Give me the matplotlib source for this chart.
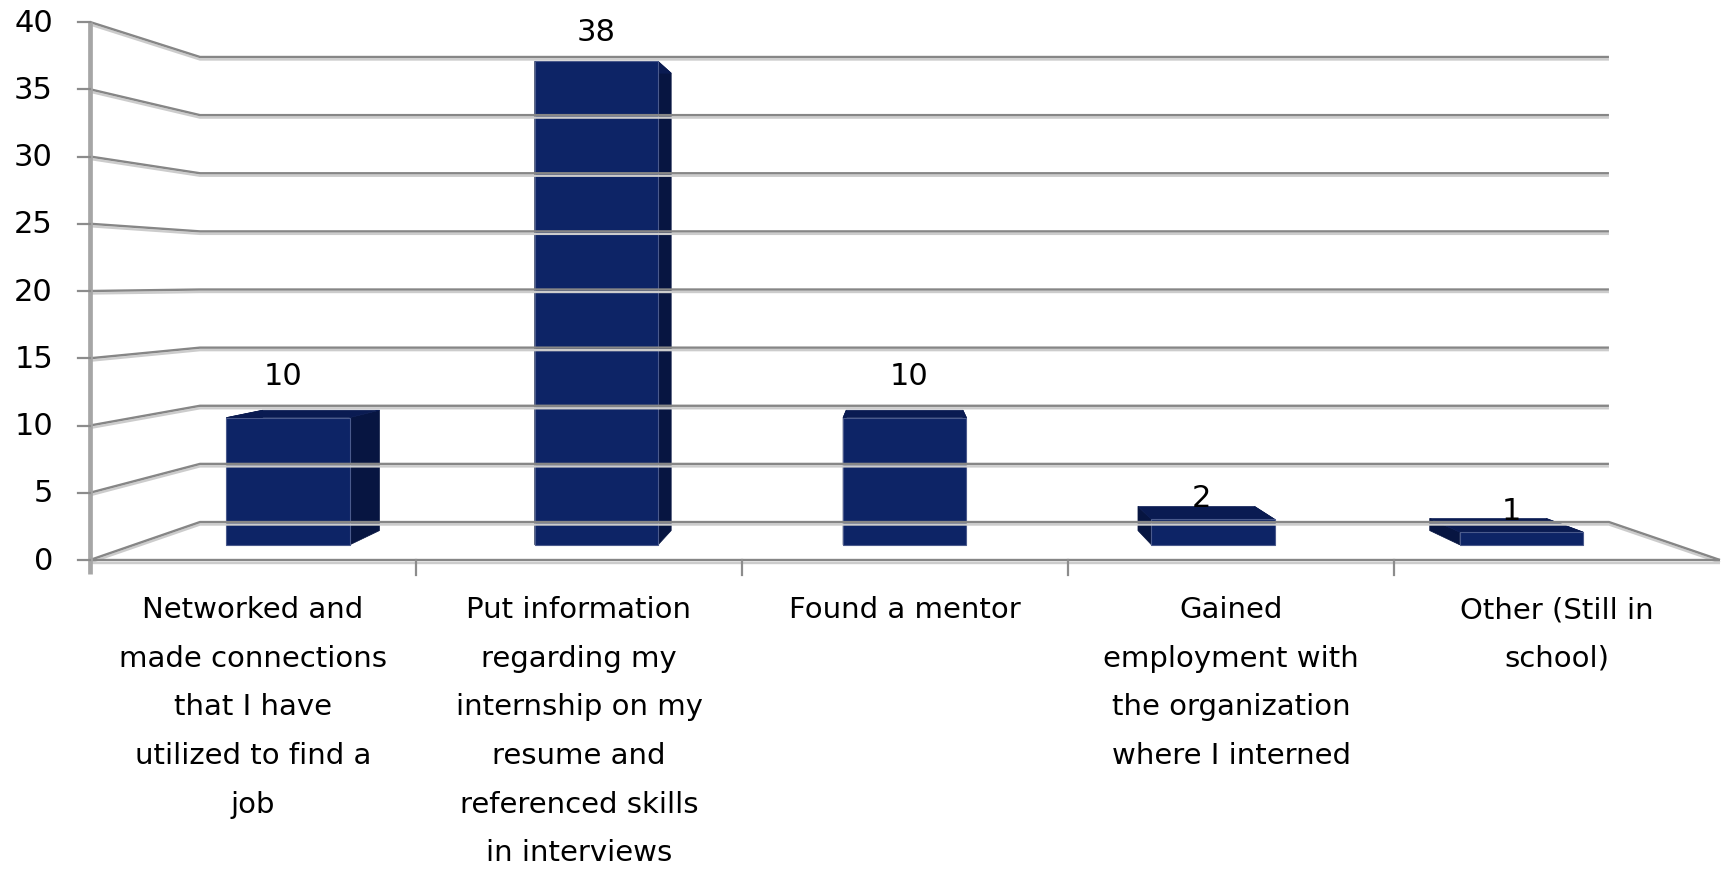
import numpy as np
import matplotlib.pyplot as plt
from matplotlib.patches import Polygon

categories = [
    "Networked and\nmade connections\nthat I have\nutilized to find a\njob",
    "Put information\nregarding my\ninternship on my\nresume and\nreferenced skills\nin interviews",
    "Found a mentor",
    "Gained\nemployment with\nthe organization\nwhere I interned",
    "Other (Still in\nschool)",
]
counts = [10, 38, 10, 2, 1]
y_ticks = [0, 5, 10, 15, 20, 25, 30, 35, 40]

plt.rcParams['font.family'] = ['DejaVu Sans']

W, H = 1723, 870
fig = plt.figure(figsize=(W / 100, H / 100), dpi=100)

# front plane of the fake 3d box (value axis lives here)
front = fig.add_axes([90 / W, (H - 561) / H, 1630 / W, (561 - 23) / H])
front.set_xlim(-0.5, len(counts) - 0.5)
front.set_ylim(0, 40)
front.axis('off')

# pixel canvas for the projected shapes
canvas = fig.add_axes([0, 0, 1, 1])
canvas.set_xlim(0, W)
canvas.set_ylim(0, H)
canvas.axis('off')

# perspective: everything shrinks towards a vanishing point with depth
vp = np.array([901.0, H - 281.0])
shrink = 0.1356


def proj(x, v, d):
    p = front.transData.transform((x, v))
    s = 1 - shrink * d
    return vp + s * (p - vp)


def gridline(pts):
    pts = np.array(pts)
    canvas.plot(pts[:, 0], pts[:, 1] - 2.5, color='#cccccc', lw=1.7, solid_capstyle='butt')
    canvas.plot(pts[:, 0], pts[:, 1], color='#868686', lw=1.7, solid_capstyle='butt')


left, right = -0.5, len(counts) - 0.5

# walls and floor
for v in y_ticks:
    pts = [proj(left, v, 0), proj(left, v, 1), proj(right, v, 1)]
    if v == 0:
        pts.append(proj(right, 0, 0))
    gridline(pts)

# category axis
gridline([proj(left, 0, 0), proj(right, 0, 0)])
for i in range(1, len(counts)):
    p = proj(left + i, 0, 0)
    canvas.plot([p[0], p[0]], [p[1], p[1] - 15], color='#8c8c8c', lw=1.6)

# value axis
a0, a1 = proj(left, 0, 0), proj(left, 40, 0)
canvas.plot([a0[0], a1[0]], [a0[1] - 14, a1[1]], color='#a6a6a6', lw=3.4, solid_capstyle='butt')
for v in y_ticks:
    p = proj(left, v, 0)
    canvas.plot([p[0] - 12, p[0]], [p[1], p[1]], color='#8c8c8c', lw=1.6)
    canvas.text(p[0] - 37, p[1], str(v), ha='right', va='center', fontsize=22, color='#000000')

# bars
bar_w = 0.40
d_front, d_back = 0.40, 0.775
front_col, side_col, top_col = '#0d2466', '#071541', '#0a1b52'
label_nudge = [(-5, 12), (0, 0), (4, 12), (-12, -8), (-10, -8)]

for i, v in enumerate(counts):
    x0, x1 = i - bar_w / 2, i + bar_w / 2
    faces = [
        ([proj(x1, 0, d_front), proj(x1, 0, d_back), proj(x1, v, d_back), proj(x1, v, d_front)], side_col),
        ([proj(x0, 0, d_front), proj(x0, 0, d_back), proj(x0, v, d_back), proj(x0, v, d_front)], side_col),
        ([proj(x0, v, d_front), proj(x1, v, d_front), proj(x1, v, d_back), proj(x0, v, d_back)], top_col),
    ]
    for pts, col in faces:
        canvas.add_patch(Polygon(pts, closed=True, facecolor=col, edgecolor=col, lw=0.5))
    fpts = [proj(x0, 0, d_front), proj(x1, 0, d_front), proj(x1, v, d_front), proj(x0, v, d_front)]
    canvas.add_patch(Polygon(fpts, closed=True, facecolor=front_col, edgecolor='#4a5a8c', lw=0.8))

    top = proj(i, v, d_front)
    dx, dy = label_nudge[i]
    canvas.text(top[0] + dx, top[1] + 30 + dy, str(v), ha='center', va='center',
                fontsize=22, color='#000000')

# category labels
for i, name in enumerate(categories):
    p = proj(i, 0, 0)
    canvas.text(p[0], p[1] - 35, name, ha='center', va='top', fontsize=21,
                linespacing=1.94, color='#000000')

fig.savefig('out.png', dpi=100, facecolor='white')
